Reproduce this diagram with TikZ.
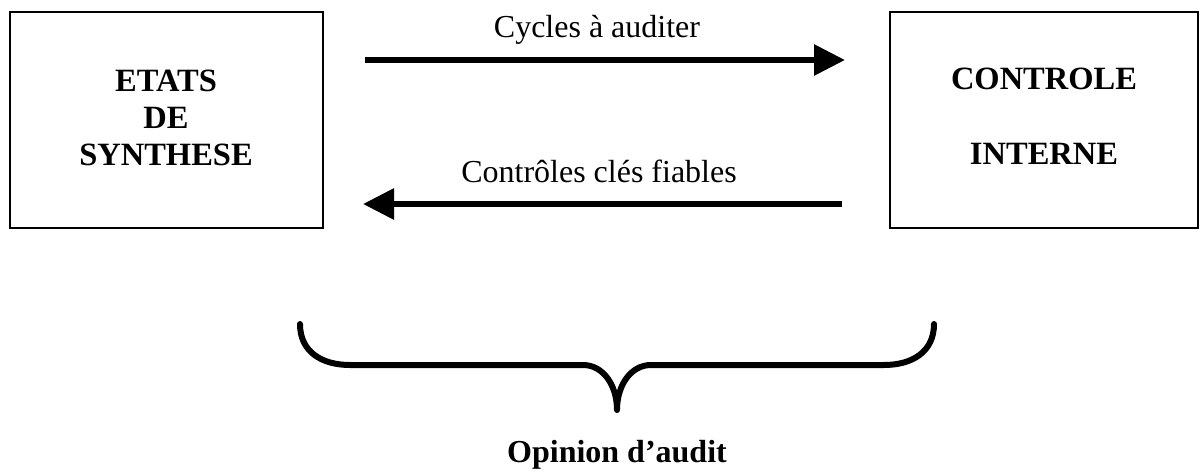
\documentclass[tikz,border=0pt]{standalone}
\usepackage{fontspec}
\setmainfont{Liberation Serif}
\usetikzlibrary{arrows.meta}
\begin{document}
\begin{tikzpicture}[x=1pt,y=-1pt,
  bigbox/.style={draw=black, line width=1.8pt, minimum width=313pt, minimum height=216pt, inner sep=0pt},
  boxtitle/.style={inner sep=0pt, align=center, font=\fontsize{32.5}{37}\selectfont\bfseries},
  flowlabel/.style={anchor=base, inner sep=0pt, font=\fontsize{32}{37}\selectfont},
  flowarrow/.style={line width=6pt, -{Triangle[length=31pt,width=30pt]}},
  bracestroke/.style={line width=6pt, line cap=round, line join=round}]
\useasboundingbox (0,0) rectangle (1199,471);

% the two blocks and their titles (base = baseline of the last line)
\node[bigbox] (etats) at (166.5,120) {};
\node[bigbox, minimum width=308pt] (ci) at (1044,120) {};
\node[boxtitle, anchor=base] (etatsT) at (166,165) {ETATS\\DE\\SYNTHESE};
\node[boxtitle, anchor=base] (ciT) at (1044,164) {CONTROLE\\[38pt]INTERNE};

% arrow ends between the blocks
\coordinate (topL) at (365,60);
\coordinate (topR) at (845,60);
\coordinate (botR) at (842,204);
\coordinate (botL) at (363,204);

\draw[flowarrow] (topL) -- (topR);
\draw[flowarrow] (botR) -- (botL);

\node[flowlabel] (cyc) at (597,37) {Cycles à auditer};
\node[flowlabel] (cle) at (599,182) {Contrôles clés fiables};

% brace gathering both blocks
\draw[bracestroke] (300,324) .. controls (300,352) and (322,365) .. (350,365)
  -- (583,365) .. controls (603,365) and (617,385) .. (617,410)
  .. controls (617,385) and (631,365) .. (651,365)
  -- (884,365) .. controls (912,365) and (934,352) .. (934,324);

\node[flowlabel, font=\fontsize{32}{37}\selectfont\bfseries] (op) at (617,462) {Opinion d’audit};
\end{tikzpicture}
\end{document}
